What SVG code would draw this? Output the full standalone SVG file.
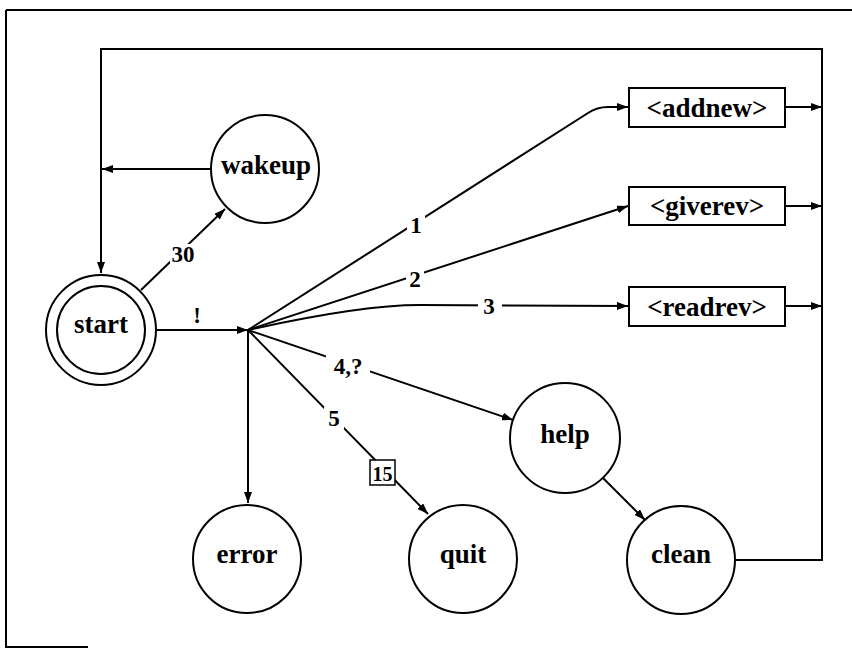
<svg xmlns="http://www.w3.org/2000/svg" width="852" height="649" viewBox="0 0 852 649">
<style>
.n{font-family:"Liberation Serif","Times New Roman",serif;font-weight:bold;font-size:27px;text-anchor:middle;fill:#000}
.l{font-family:"Liberation Serif","Times New Roman",serif;font-weight:bold;font-size:23px;text-anchor:middle;fill:#000}
.s{fill:#fff;stroke:#000;stroke-width:2}
.e{fill:none;stroke:#000;stroke-width:2}
.bg{fill:#fff;stroke:none}
</style>
<defs>
<marker id="ah" markerUnits="userSpaceOnUse" markerWidth="11" markerHeight="8" refX="11" refY="4" orient="auto">
<path d="M0,0 L11,4 L0,8 z" fill="#000"/>
</marker>
</defs>
<g id="frame" class="e">
<path d="M6,10 L852,10 M6,10 L6,648 M6,647 L88,647"/>
</g>
<g id="connectors" class="e">
<path d="M736,560 L822,560 L822,49 L101,49 L101,273" marker-end="url(#ah)"/>
<path d="M210,169 L102,169" marker-end="url(#ah)"/>
<path d="M141,290 L225,209" marker-end="url(#ah)"/>
<path d="M157,330 L248,330" marker-end="url(#ah)"/>
<path d="M248,330 L588,113 Q597,107 608,107 L628,107" marker-end="url(#ah)"/>
<path d="M248,330 L628,206" marker-end="url(#ah)"/>
<path d="M248,330 Q360,305 420,305 L628,306" marker-end="url(#ah)"/>
<path d="M248,330 L513,420" marker-end="url(#ah)"/>
<path d="M248,330 L428,514" marker-end="url(#ah)"/>
<path d="M248,330 L248,503" marker-end="url(#ah)"/>
<path d="M603,478 L645,520" marker-end="url(#ah)"/>
<path d="M785,107 L822,107" marker-end="url(#ah)"/>
<path d="M785,206 L822,206" marker-end="url(#ah)"/>
<path d="M785,306 L822,306" marker-end="url(#ah)"/>
</g>
<g id="labels">
<rect class="bg" x="170" y="244" width="26" height="20"/>
<text class="l" x="183" y="262">30</text>
<text class="l" x="197" y="323">!</text>
<rect class="bg" x="407" y="214" width="18" height="22"/>
<text class="l" x="416" y="233">1</text>
<rect class="bg" x="406" y="267" width="18" height="22"/>
<text class="l" x="415" y="287">2</text>
<rect class="bg" x="478" y="295" width="24" height="22"/>
<text class="l" x="489" y="314">3</text>
<rect class="bg" x="326" y="354" width="44" height="24"/>
<text class="l" x="348" y="374">4,?</text>
<rect class="bg" x="324" y="407" width="20" height="22"/>
<text class="l" x="334" y="426">5</text>
<rect x="370" y="460" width="25" height="25" fill="#fff" stroke="#000" stroke-width="1.5"/>
<text class="l" x="382.5" y="481" style="font-size:20px">15</text>
</g>
<g id="start">
<circle class="s" cx="101" cy="330" r="55"/>
<circle class="s" cx="101" cy="330" r="44"/>
<text class="n" x="101" y="333">start</text>
</g>
<g id="wakeup">
<circle class="s" cx="265" cy="169" r="54"/>
<text class="n" x="266" y="174">wakeup</text>
</g>
<g id="addnew">
<rect class="s" x="629" y="88" width="156" height="39"/>
<text class="n" x="707" y="117">&lt;addnew&gt;</text>
</g>
<g id="giverev">
<rect class="s" x="629" y="187" width="156" height="38"/>
<text class="n" x="707" y="215">&lt;giverev&gt;</text>
</g>
<g id="readrev">
<rect class="s" x="629" y="287" width="156" height="39"/>
<text class="n" x="707" y="316">&lt;readrev&gt;</text>
</g>
<g id="help">
<circle class="s" cx="565" cy="438" r="55"/>
<text class="n" x="565" y="443">help</text>
</g>
<g id="error">
<circle class="s" cx="247" cy="559" r="54"/>
<text class="n" x="247" y="563">error</text>
</g>
<g id="quit">
<circle class="s" cx="463" cy="559" r="54"/>
<text class="n" x="463" y="563">quit</text>
</g>
<g id="clean">
<circle class="s" cx="681" cy="560" r="54"/>
<text class="n" x="681" y="563">clean</text>
</g>
</svg>
